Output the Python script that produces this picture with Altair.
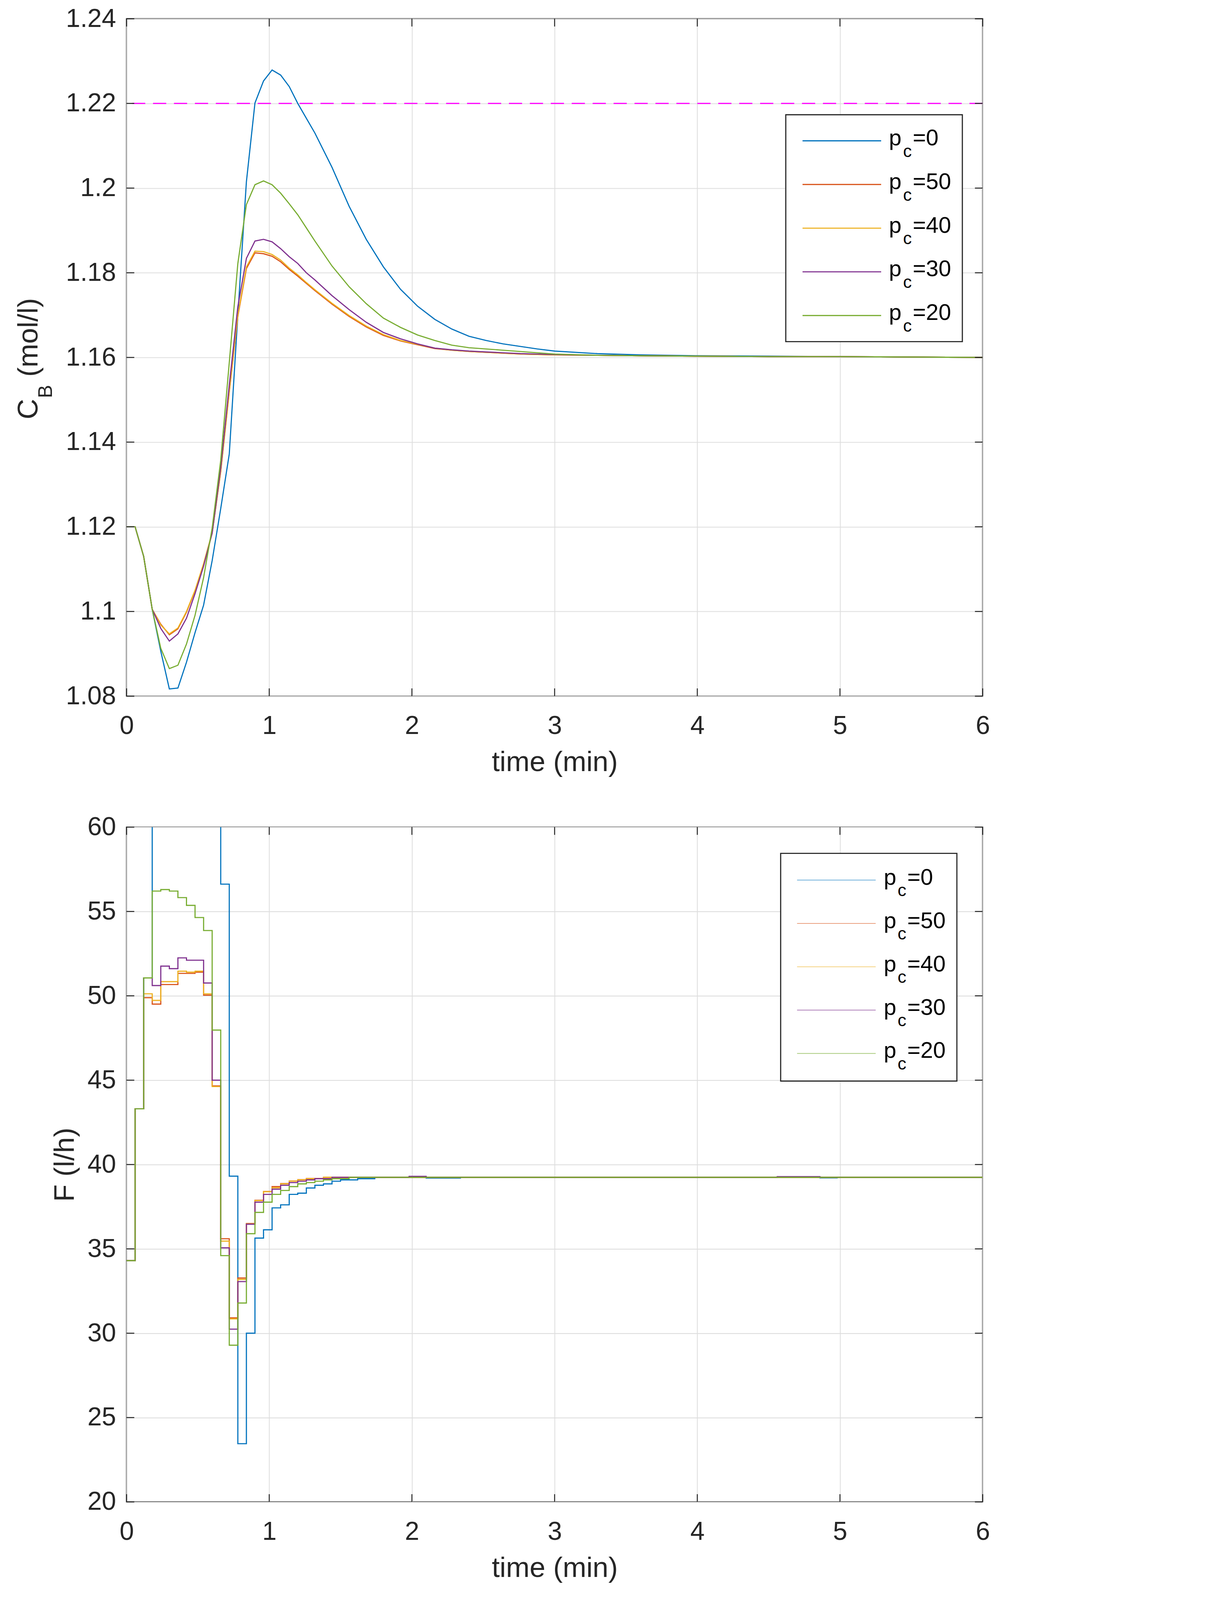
import altair as alt
import pandas as pd

FONT = "Liberation Sans"
INK = "#262626"
GRID = "#dedede"

# series, in the order they are drawn (last one on top)
series_values = ["=0", "=50", "=40", "=30", "=20"]
series_colors = ["#0072BD", "#D95319", "#EDB120", "#7E2F8E", "#77AC30"]

x_ticks = [0, 1, 2, 3, 4, 5, 6]
cb_ticks = [1.08, 1.10, 1.12, 1.14, 1.16, 1.18, 1.20, 1.22, 1.24]
f_ticks = [20, 25, 30, 35, 40, 45, 50, 55, 60]
cb_limit = [1.22]

# --- concentration C_B (mol/l) ---
t_cb = [0.00, 0.06, 0.12, 0.18, 0.24, 0.30, 0.36, 0.42, 0.48, 0.54, 0.60,
        0.66, 0.72, 0.78, 0.84, 0.90, 0.96, 1.02, 1.08, 1.14, 1.20, 1.26,
        1.32, 1.44, 1.56, 1.68, 1.80, 1.92, 2.04, 2.16, 2.28, 2.40, 2.52,
        2.64, 2.76, 2.88, 3.00, 3.30, 3.60, 4.00, 4.50, 5.00, 5.50, 6.00]
cb_p0 = [1.12, 1.12, 1.113, 1.1005, 1.0906, 1.0817, 1.0819, 1.0880, 1.0950, 1.1015, 1.112,
         1.1243, 1.1372, 1.170, 1.2015, 1.2201, 1.2253, 1.2279, 1.2267, 1.224, 1.220, 1.2165,
         1.2130, 1.2049, 1.1957, 1.1879, 1.1814, 1.1761, 1.1721, 1.1690, 1.1667, 1.1650, 1.1640,
         1.1632, 1.1626, 1.1620, 1.1615, 1.1609, 1.1606, 1.1604, 1.1603, 1.1602, 1.1601, 1.1600]
cb_p50 = [1.12, 1.12, 1.113, 1.1005, 1.0970, 1.0945, 1.0959, 1.0998, 1.1049, 1.1112, 1.1185,
          1.1330, 1.1518, 1.1697, 1.1810, 1.1847, 1.1845, 1.1839, 1.1826, 1.1808, 1.1792, 1.1775,
          1.1758, 1.1726, 1.1697, 1.1672, 1.1652, 1.1639, 1.1630, 1.1621, 1.1617, 1.1614, 1.1612,
          1.1610, 1.1608, 1.1607, 1.1606, 1.1605, 1.1604, 1.1603, 1.1602, 1.1602, 1.1601, 1.1600]
cb_p40 = [1.12, 1.12, 1.113, 1.1005, 1.0968, 1.0947, 1.0961, 1.1000, 1.1050, 1.1113, 1.1186,
          1.1332, 1.1521, 1.1700, 1.1814, 1.1851, 1.1850, 1.1843, 1.1830, 1.1811, 1.1795, 1.1777,
          1.1760, 1.1728, 1.1699, 1.1674, 1.1654, 1.1640, 1.1631, 1.1622, 1.1617, 1.1614, 1.1612,
          1.1610, 1.1608, 1.1607, 1.1606, 1.1605, 1.1604, 1.1603, 1.1602, 1.1602, 1.1601, 1.1600]
cb_p30 = [1.12, 1.12, 1.113, 1.1005, 1.0960, 1.0930, 1.0947, 1.0984, 1.1042, 1.1107, 1.1185,
          1.1340, 1.1535, 1.1720, 1.1834, 1.1875, 1.1879, 1.1873, 1.1857, 1.1838, 1.1822, 1.1800,
          1.1783, 1.1746, 1.1713, 1.1683, 1.1659, 1.1644, 1.1632, 1.1622, 1.1618, 1.1615, 1.1613,
          1.1611, 1.1609, 1.1608, 1.1607, 1.1605, 1.1604, 1.1603, 1.1602, 1.1602, 1.1601, 1.1600]
cb_p20 = [1.12, 1.12, 1.113, 1.1005, 1.0913, 1.0865, 1.0873, 1.0923, 1.0991, 1.1080, 1.1197,
          1.1357, 1.1588, 1.1822, 1.1961, 1.2008, 1.2017, 1.2008, 1.1988, 1.1963, 1.1937, 1.1906,
          1.1875, 1.1816, 1.1767, 1.1727, 1.1693, 1.1671, 1.1653, 1.1640, 1.1629, 1.1623, 1.1620,
          1.1617, 1.1614, 1.1611, 1.1608, 1.1605, 1.1604, 1.1603, 1.1602, 1.1602, 1.1601, 1.1600]

# --- feed F (l/h), held constant over each sample (step-after) ---
t_f = [0.00, 0.06, 0.12, 0.18, 0.24, 0.30, 0.36, 0.42, 0.48, 0.54,
       0.60, 0.66, 0.72, 0.78, 0.84, 0.90, 0.96, 1.02, 1.08, 1.14,
       1.20, 1.26, 1.32, 1.38, 1.44, 1.50, 1.56, 1.62, 1.68, 1.74,
       1.98, 2.10, 2.34, 4.56, 4.86, 4.98, 6.00]
# p_c=0 runs off the top of the axis (values above 60 are clipped)
f_p0 = [34.3, 43.3, 51.06, 70.0, 70.0, 70.0, 70.0, 70.0, 70.0, 70.0,
        70.0, 56.62, 39.31, 23.45, 30.00, 35.64, 36.13, 37.43, 37.61, 38.23,
        38.30, 38.61, 38.77, 38.85, 39.01, 39.09, 39.09, 39.16, 39.16, 39.24,
        39.24, 39.20, 39.24, 39.24, 39.21, 39.24, 39.24]
f_p50 = [34.3, 43.3, 49.89, 49.51, 50.67, 50.67, 51.33, 51.33, 51.40, 50.04,
         44.66, 35.60, 30.91, 33.27, 36.50, 37.88, 38.40, 38.69, 38.87, 39.02,
         39.10, 39.17, 39.17, 39.24, 39.24, 39.24, 39.24, 39.24, 39.24, 39.24,
         39.24, 39.24, 39.24, 39.24, 39.24, 39.24, 39.24]
f_p40 = [34.3, 43.3, 50.12, 49.73, 50.84, 50.84, 51.46, 51.40, 51.46, 50.12,
         44.62, 35.46, 30.85, 33.19, 36.48, 37.86, 38.39, 38.62, 38.85, 39.01,
         39.09, 39.16, 39.16, 39.24, 39.24, 39.24, 39.24, 39.24, 39.24, 39.24,
         39.24, 39.24, 39.24, 39.24, 39.24, 39.24, 39.24]
f_p30 = [34.3, 43.3, 51.06, 50.61, 51.76, 51.61, 52.25, 52.11, 52.11, 50.76,
         45.00, 35.06, 30.24, 33.06, 36.46, 37.77, 38.23, 38.54, 38.77, 38.93,
         39.01, 39.09, 39.16, 39.16, 39.24, 39.24, 39.24, 39.24, 39.24, 39.24,
         39.30, 39.24, 39.24, 39.28, 39.24, 39.24, 39.24]
f_p20 = [34.3, 43.3, 51.06, 56.21, 56.30, 56.21, 55.82, 55.36, 54.64, 53.87,
         47.97, 34.60, 29.29, 31.79, 35.90, 37.16, 37.77, 38.23, 38.46, 38.69,
         38.85, 38.93, 39.01, 39.09, 39.16, 39.16, 39.24, 39.24, 39.24, 39.24,
         39.24, 39.24, 39.24, 39.24, 39.24, 39.24, 39.24]

cb_series = [cb_p0, cb_p50, cb_p40, cb_p30, cb_p20]
f_series = [f_p0, f_p50, f_p40, f_p30, f_p20]

# whole figure is drawn at this scale so it fits the visible page
S = 0.825


def px(v):
    return round(v * S, 1)


W = px(2657)
H_TOP = px(2102)
H_BOT = px(2094)
TICK = px(24)
LW = px(3.5)


def x_enc():
    return alt.X("time:Q", scale=alt.Scale(domain=[0, 6], nice=False, zero=False),
                 axis=alt.Axis(values=x_ticks, format="d", title="time (min)"))


def y_enc(domain, ticks, title, fmt):
    return alt.Y("value:Q", scale=alt.Scale(domain=domain, nice=False, zero=False),
                 axis=alt.Axis(values=ticks, labelExpr=fmt, title=title))


def one():
    return pd.DataFrame({"k": [0]})


def frame_ticks(yenc, yticks, height):
    # MATLAB style inward ticks on all four sides
    xt = pd.DataFrame({"time": x_ticks})
    yt = pd.DataFrame({"value": yticks})
    rule = dict(color=INK, strokeWidth=px(3))
    return [
        alt.Chart(xt).mark_rule(**rule).encode(x=x_enc(), y=alt.value(height), y2=alt.value(height - TICK)),
        alt.Chart(xt).mark_rule(**rule).encode(x=x_enc(), y=alt.value(0), y2=alt.value(TICK)),
        alt.Chart(yt).mark_rule(**rule).encode(y=yenc, x=alt.value(0), x2=alt.value(TICK)),
        alt.Chart(yt).mark_rule(**rule).encode(y=yenc, x=alt.value(W), x2=alt.value(W - TICK)),
    ]


def legend(box, line_x, text_x, row0, step, line_width, line_opacity):
    layers = [
        alt.Chart(one()).mark_rect(fill="white", stroke=INK, strokeWidth=px(3.5)).encode(
            x=alt.value(px(box[0])), x2=alt.value(px(box[1])),
            y=alt.value(px(box[2])), y2=alt.value(px(box[3])))
    ]
    txt = dict(font=FONT, color="black", align="left", baseline="alphabetic")
    for i, (val, col) in enumerate(zip(series_values, series_colors)):
        ly = row0 + i * step
        layers.append(alt.Chart(one()).mark_rule(color=col, strokeWidth=line_width, opacity=line_opacity).encode(
            x=alt.value(px(line_x[0])), x2=alt.value(px(line_x[1])), y=alt.value(px(ly))))
        layers.append(alt.Chart(one()).mark_text(text="p", fontSize=px(70), **txt).encode(
            x=alt.value(px(text_x[0])), y=alt.value(px(ly + 14))))
        layers.append(alt.Chart(one()).mark_text(text="c", fontSize=px(54), **txt).encode(
            x=alt.value(px(text_x[1])), y=alt.value(px(ly + 50))))
        layers.append(alt.Chart(one()).mark_text(text=val, fontSize=px(70), **txt).encode(
            x=alt.value(px(text_x[2])), y=alt.value(px(ly + 14))))
    return layers


# ---------------- top: concentration ----------------
y_cb = y_enc([1.08, 1.24], cb_ticks, None, "format(datum.value, '.2~f')")
cb_layers = []
for vals, col in zip(cb_series, series_colors):
    df = pd.DataFrame({"time": t_cb, "value": vals})
    cb_layers.append(alt.Chart(df).mark_line(color=col, strokeWidth=LW, clip=True).encode(x=x_enc(), y=y_cb))
cb_layers.append(
    alt.Chart(pd.DataFrame({"value": cb_limit})).mark_rule(
        color="#FF00FF", strokeWidth=LW, strokeDash=[px(41), px(24)]).encode(y=y_cb)
)
cb_layers += frame_ticks(y_cb, cb_ticks, H_TOP)
cb_layers += legend((2046, 2594, 298, 1002), (2098, 2342), (2366, 2410, 2440), 378.8, 135.5, LW, 1.0)

# y title C_B (mol/l), built from pieces to get the subscript
ttl = dict(font=FONT, color=INK, align="left", baseline="alphabetic", angle=270)
cb_layers += [
    alt.Chart(one()).mark_text(text="C", fontSize=px(88), **ttl).encode(x=alt.value(px(-276)), y=alt.value(px(1243))),
    alt.Chart(one()).mark_text(text="B", fontSize=px(61), **ttl).encode(x=alt.value(px(-231)), y=alt.value(px(1177))),
    alt.Chart(one()).mark_text(text="(mol/l)", fontSize=px(88), **ttl).encode(x=alt.value(px(-276)), y=alt.value(px(1111))),
]
top = alt.layer(*cb_layers).properties(width=W, height=H_TOP)

# ---------------- bottom: feed ----------------
y_f = y_enc([20, 60], f_ticks, "F (l/h)", "format(datum.value, 'd')")
f_layers = []
for vals, col in zip(f_series, series_colors):
    df = pd.DataFrame({"time": t_f, "value": vals})
    f_layers.append(alt.Chart(df).mark_line(color=col, strokeWidth=LW, interpolate="step-after", clip=True).encode(x=x_enc(), y=y_f))
f_layers += frame_ticks(y_f, f_ticks, H_BOT)
f_layers += legend((2030, 2577, 81.5, 788), (2081, 2325), (2350, 2393, 2423), 164.4, 134.5, px(2.5), 0.55)
bottom = alt.layer(*f_layers).properties(width=W, height=H_BOT)

chart = alt.vconcat(top, bottom, spacing=px(112)).properties(
    padding={"left": px(34), "top": 5, "right": 5, "bottom": 5}
).configure_view(
    stroke=INK, strokeWidth=px(3.5)
).configure_axis(
    labelFont=FONT, labelFontSize=px(80), labelColor=INK,
    titleFont=FONT, titleFontSize=px(88), titleFontWeight="normal", titleColor=INK,
    domain=False, ticks=False, tickSize=0,
    grid=True, gridColor=GRID, gridWidth=px(2.5),
    labelFlush=False, labelOverlap=False,
).configure_axisX(
    labelPadding=px(54), titlePadding=px(30)
).configure_axisY(
    labelPadding=px(33), titlePadding=px(24)
)

chart.save("out.html", embed_options={"renderer": "svg", "actions": False})
